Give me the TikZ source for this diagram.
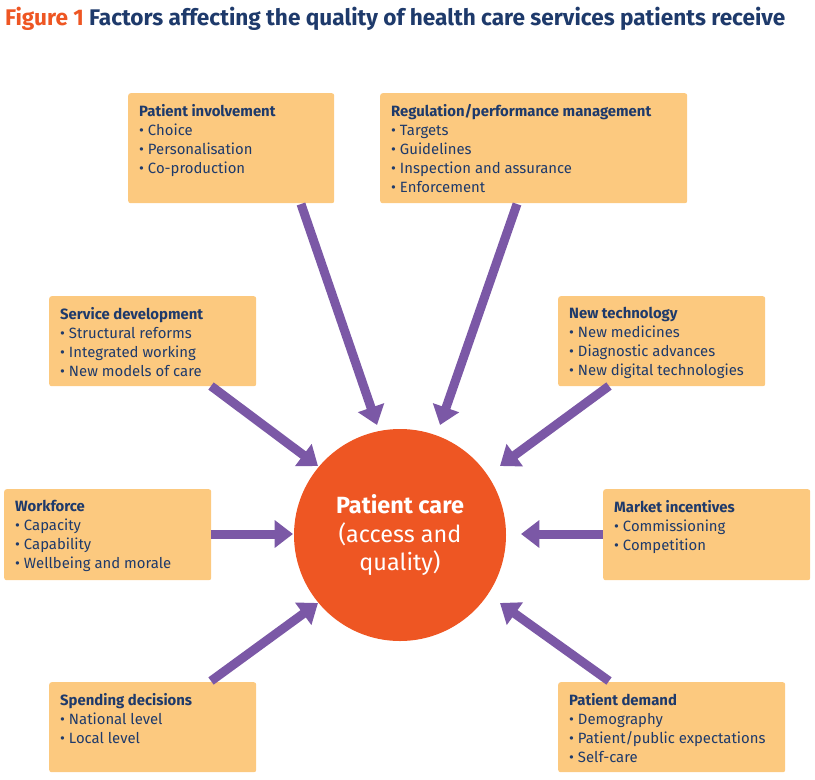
\documentclass[tikz,border=0pt]{standalone}
\usepackage{fontspec}
\setmainfont{Fira Sans}
\usetikzlibrary{arrows.meta}
\definecolor{boxc}{HTML}{FCC97F}
\definecolor{circc}{HTML}{EE5623}
\definecolor{arrc}{HTML}{7B58A6}
\definecolor{titc}{HTML}{1E3A6B}
\definecolor{figc}{HTML}{EE5623}
\begin{document}
\begin{tikzpicture}[x=0.03cm,y=-0.03cm,
  box/.style={fill=boxc,rounded corners=2pt,inner sep=0pt,anchor=north west},
  txt/.style={anchor=north west,align=left,inner sep=0pt,text=titc,font=\fontsize{12.7}{16.2}\selectfont},
  arr/.style={draw=arrc,line width=0.27cm,-{Triangle[width=0.8cm,length=0.55cm]}}]
\useasboundingbox (0,0) rectangle (815,779);
\node[anchor=west,inner sep=0pt,font=\fontsize{19.3}{22}\selectfont\bfseries] (title) at (5,19) {\textcolor{figc}{Figure 1} \textcolor{titc}{Factors affecting the quality of health care services patients receive}};
\node[circle,fill=circc,minimum size=6.36cm,inner sep=0pt,align=center,text=white,font=\fontsize{20}{24.5}\selectfont] (pc) at (400,535) {\textbf{Patient care}\\(access and\\quality)};
\newcommand{\factbox}[6]{%
 \node[box,minimum width=#3*0.03cm,minimum height=#4*0.03cm] (#5) at (#1,#2) {};
 \node[txt] (#5t) at (#1+11,#2+11) {#6};}
\factbox{128}{93}{206}{110}{pi}{\textbf{Patient involvement}\\• Choice\\• Personalisation\\• Co-production}
\factbox{380}{93}{307}{110}{rg}{\textbf{Regulation/performance management}\\• Targets\\• Guidelines\\• Inspection and assurance\\• Enforcement}
\factbox{49}{296}{207}{90}{sd}{\textbf{Service development}\\• Structural reforms\\• Integrated working\\• New models of care}
\factbox{558}{296}{207}{90}{nt}{\textbf{New technology}\\• New medicines\\• Diagnostic advances\\• New digital technologies}
\factbox{4}{489}{207}{91}{wf}{\textbf{Workforce}\\• Capacity\\• Capability\\• Wellbeing and morale}
\factbox{603}{489}{207}{91}{mi}{\textbf{Market incentives}\\• Commissioning\\• Competition}
\factbox{49}{682}{207}{90}{sp}{\textbf{Spending decisions}\\• National level\\• Local level}
\factbox{558}{682}{227}{90}{de}{\textbf{Patient demand}\\• Demography\\• Patient/public expectations\\• Self-care}
\coordinate (a1) at (301,204); \coordinate (b1) at (377,425);
\coordinate (a2) at (517,204); \coordinate (b2) at (440,425);
\coordinate (a3) at (211,386); \coordinate (b3) at (318,466);
\coordinate (a4) at (609,386); \coordinate (b4) at (500,466);
\coordinate (a5) at (211,534); \coordinate (b5) at (293,534);
\coordinate (a6) at (603,534); \coordinate (b6) at (521,534);
\coordinate (a7) at (211,681); \coordinate (b7) at (318,603);
\coordinate (a8) at (609,681); \coordinate (b8) at (500,603);
\foreach \i in {1,...,8} {\draw[arr] (a\i) -- (b\i);}
\end{tikzpicture}
\end{document}
